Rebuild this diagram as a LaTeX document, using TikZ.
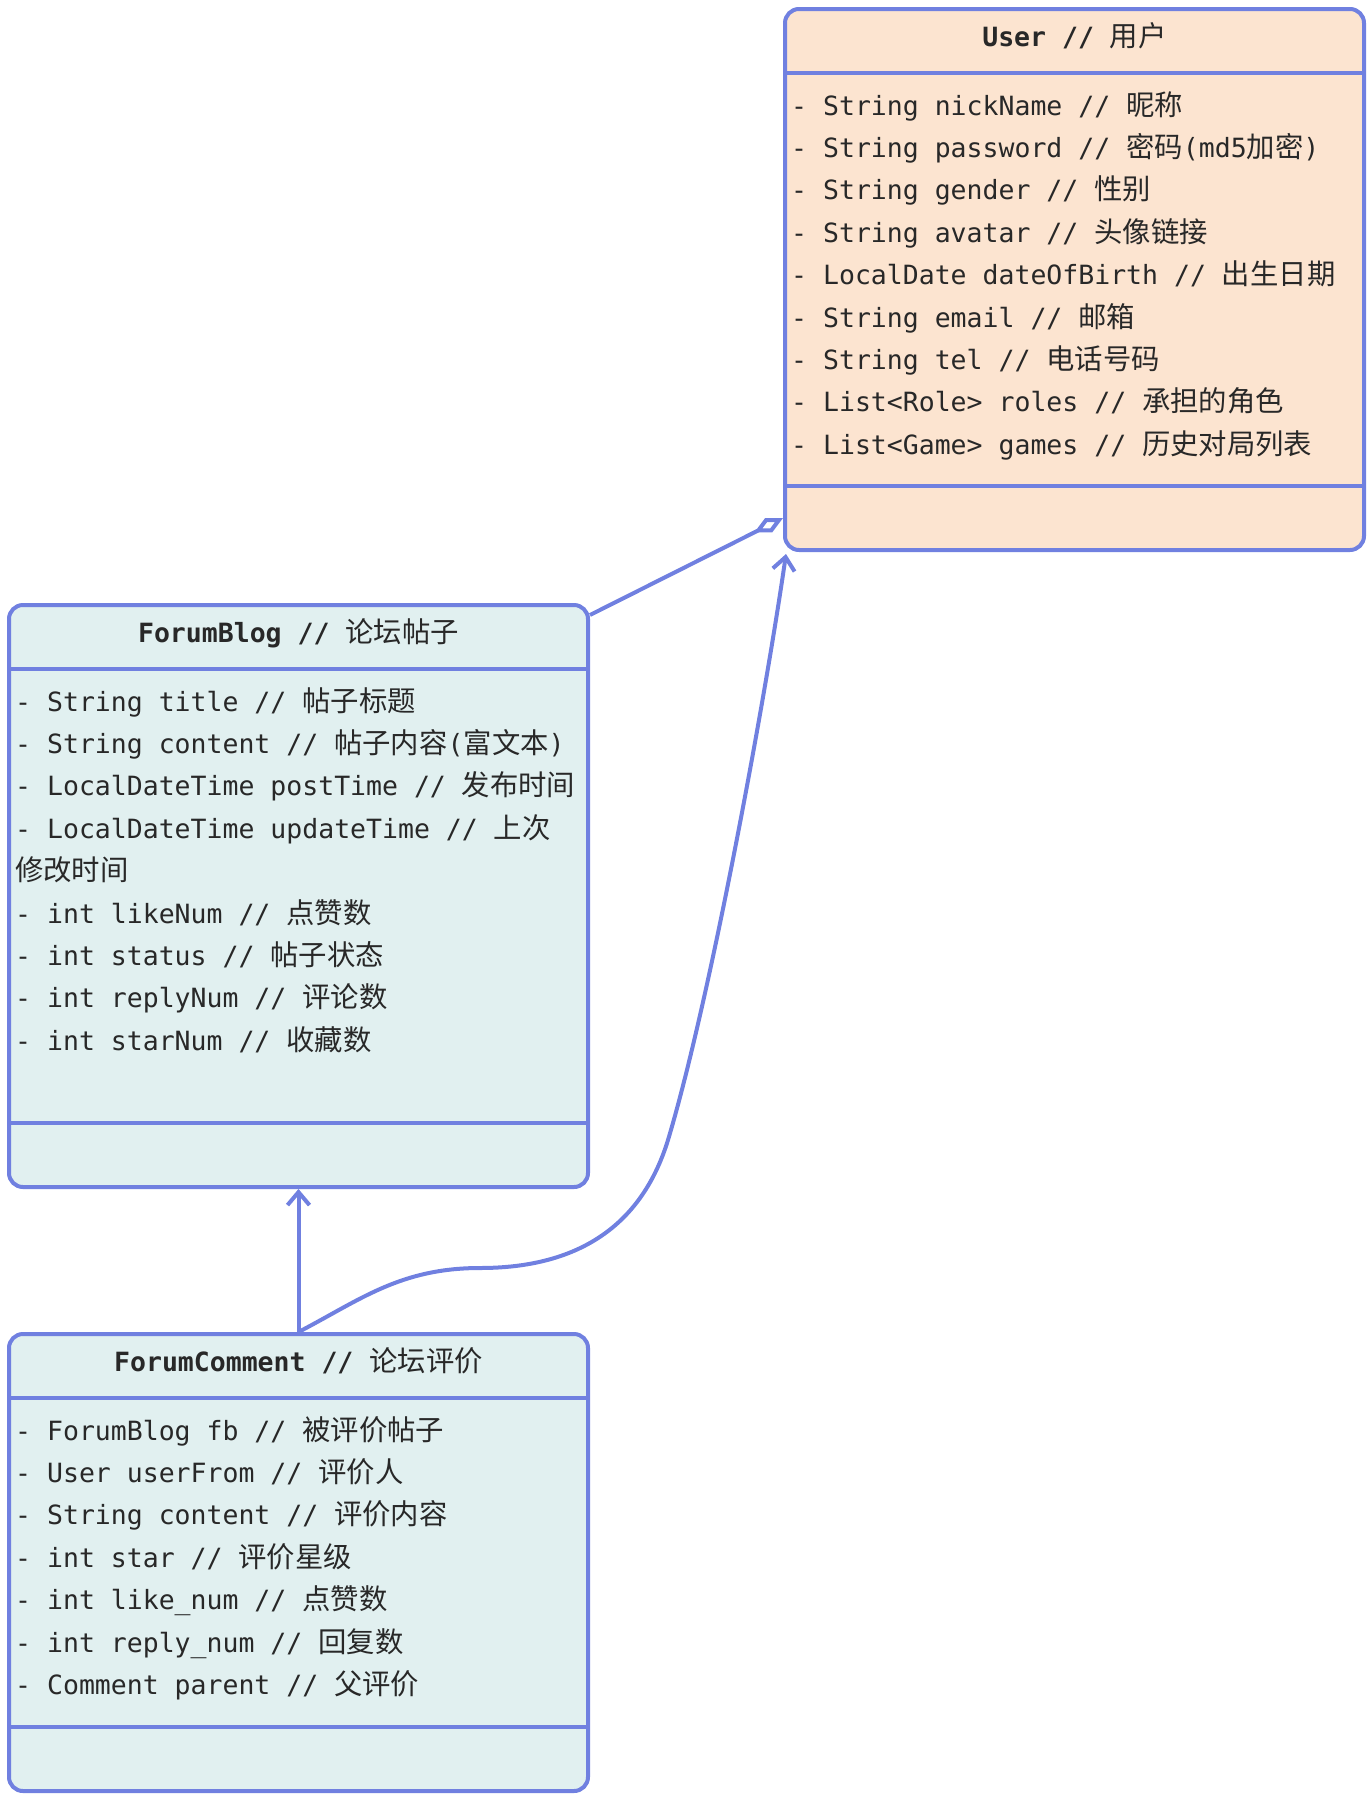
\documentclass[tikz,border=0pt]{standalone}
\usepackage{fontspec}
\setmainfont{DejaVu Sans Mono}
\newfontfamily\zhfont{Noto Sans CJK SC}[Scale=1.07]
\newcommand{\zh}[1]{{\zhfont\mdseries #1}}
\newcommand{\umlsize}{\fontsize{26.5}{42}\selectfont}
\usetikzlibrary{arrows.meta,calc}
\definecolor{umlline}{RGB}{112,128,224}
\definecolor{userfill}{RGB}{252,228,208}
\definecolor{forumfill}{RGB}{225,240,240}
\definecolor{umltext}{RGB}{40,40,40}

\begin{document}
\begin{tikzpicture}[
  x=1pt, y=-1pt,
  every node/.style={font=\umlsize},
  classbox/.style={draw=umlline, line width=4pt, rounded corners=14pt,
    minimum width=579pt, anchor=north west, inner sep=0pt},
  classline/.style={draw=umlline, line width=4pt},
  head/.style={font=\umlsize\bfseries, text=umltext, anchor=base, inner sep=0pt},
  attr/.style={text=umltext, anchor=base west, inner sep=0pt},
  link/.style={draw=umlline, line width=4pt},
  barb/.style={-{Straight Barb[length=13pt, width=22pt]}}
  ]
  \useasboundingbox (0,0) rectangle (1372,1797);

  % Class boxes
  \node[classbox, fill=userfill, minimum height=541pt] (user) at (783,7) {};
  \node[classbox, fill=forumfill, minimum height=582pt] (blog) at (7,603) {};
  \node[classbox, fill=forumfill, minimum height=457pt] (comment) at (7,1332) {};

  % Compartment lines
  \foreach \cls in {user, blog, comment} {
    \draw[classline] ($(\cls.north west)+(0,66)$) -- ($(\cls.north east)+(0,66)$);
    \draw[classline] ($(\cls.south west)+(0,-66)$) -- ($(\cls.south east)+(0,-66)$);
  }

  % Class names
  \node[head] (userhead) at ($(user.north)+(0,39)$) {User // \zh{用户}};
  \node[head] (bloghead) at ($(blog.north)+(0,39)$) {ForumBlog // \zh{论坛帖子}};
  \node[head] (commenthead) at ($(comment.north)+(0,39)$) {ForumComment // \zh{论坛评价}};

  % User attributes
  \foreach \txt [count=\i] in {
    {- String nickName // \zh{昵称}},
    {- String password // \zh{密码}(md5\zh{加密})},
    {- String gender // \zh{性别}},
    {- String avatar // \zh{头像链接}},
    {- LocalDate dateOfBirth // \zh{出生日期}},
    {- String email // \zh{邮箱}},
    {- String tel // \zh{电话号码}},
    {- List<Role> roles // \zh{承担的角色}},
    {- List<Game> games // \zh{历史对局列表}}}
    \node[attr] (user\i) at ($(user.north west)+(8,{108+42.4*(\i-1)})$) {\txt};

  % ForumBlog attributes
  \foreach \txt [count=\i] in {
    {- String title // \zh{帖子标题}},
    {- String content // \zh{帖子内容}(\zh{富文本})},
    {- LocalDateTime postTime // \zh{发布时间}},
    {- LocalDateTime updateTime // \zh{上次}},
    {\zh{修改时间}},
    {- int likeNum // \zh{点赞数}},
    {- int status // \zh{帖子状态}},
    {- int replyNum // \zh{评论数}},
    {- int starNum // \zh{收藏数}}}
    \node[attr] (blog\i) at ($(blog.north west)+(8,{108+42.4*(\i-1)})$) {\txt};

  % ForumComment attributes
  \foreach \txt [count=\i] in {
    {- ForumBlog fb // \zh{被评价帖子}},
    {- User userFrom // \zh{评价人}},
    {- String content // \zh{评价内容}},
    {- int star // \zh{评价星级}},
    {- int like\_num // \zh{点赞数}},
    {- int reply\_num // \zh{回复数}},
    {- Comment parent // \zh{父评价}}}
    \node[attr] (comment\i) at ($(comment.north west)+(8,{108+42.4*(\i-1)})$) {\txt};

  % Relations
  \coordinate (aggstart) at ($(blog.north east)+(0,12)$);
  \coordinate (aggend) at ($(user.south west)+(0,-34)$);
  \coordinate (usertip) at ($(user.south west)+(3,2)$);
  \draw[link, -{Diamond[fill=white, length=32pt, width=16pt]}] (aggstart) -- (aggend);
  \draw[link, barb] (comment.north) -- (blog.south);
  \draw[link, barb] (comment.north) .. controls (360,1300) and (400,1268) .. (480,1268)
    .. controls (590,1268) and (645,1215) .. (668,1140)
    .. controls (710,1000) and (765,700) .. (usertip);
\end{tikzpicture}
\end{document}
